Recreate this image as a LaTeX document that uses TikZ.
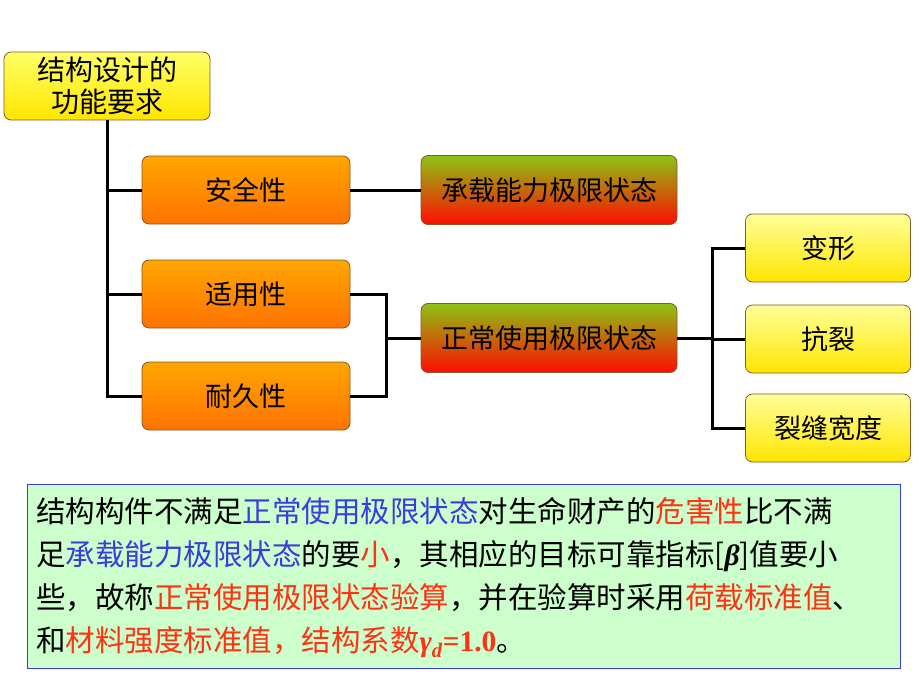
\documentclass[tikz,border=0pt]{standalone}
\usepackage{fontspec}
\setmainfont{Liberation Serif}
\newfontfamily\cjk{Noto Sans CJK SC}
\usetikzlibrary{positioning}
\definecolor{boxg}{RGB}{204,255,204}
\definecolor{bl}{RGB}{60,60,220}
\definecolor{rd}{RGB}{255,50,20}
\definecolor{gtop}{RGB}{140,195,20}
\begin{document}
\begin{tikzpicture}[x=1pt,y=-1pt,
  base/.style={draw=brown!70!black,rounded corners=7pt,line width=0.8pt,font=\cjk\fontsize{27}{31}\selectfont,inner sep=0pt},
  org/.style={base,minimum width=208pt,minimum height=68pt,top color=orange!70!yellow,bottom color=orange!90!red},
  grn/.style={base,minimum width=256pt,minimum height=69pt,top color=gtop,bottom color=red!90!orange},
  ylw/.style={base,minimum width=165pt,minimum height=68pt,top color=yellow!40,bottom color=yellow!80!orange},
  ln/.style={line width=3pt}]
\useasboundingbox (0,0) rectangle (920,690);
\node[base,minimum width=206pt,minimum height=68pt,top color=yellow!60,bottom color=yellow!80!orange,align=center,font=\cjk\fontsize{28}{32}\selectfont] (top) at (107,86) {结构设计的\\功能要求};
\node[org] (aq) at (246,190) {安全性};
\node[org] (sy) at (246,294) {适用性};
\node[org] (nj) at (246,396) {耐久性};
\node[grn] (cz) at (549,190) {承载能力极限状态};
\node[grn] (zc) at (549,338) {正常使用极限状态};
\node[ylw] (bx) at (828,248) {变形};
\node[ylw] (kl) at (828,339) {抗裂};
\node[ylw] (lf) at (828,428) {裂缝宽度};
\coordinate (t1) at (107,396);
\draw[ln] (top.south) -- (t1) -- (nj.west);
\draw[ln] (107,190) -- (aq.west);
\draw[ln] (107,294) -- (sy.west);
\draw[ln] (aq.east) -- (cz.west);
\coordinate (j1) at (386,294);
\coordinate (j2) at (386,396);
\draw[ln] (sy.east) -- (j1) -- (j2) -- (nj.east);
\draw[ln] (386,338) -- (zc.west);
\coordinate (k1) at (712,248);
\coordinate (k2) at (712,428);
\draw[ln] (zc.east) -- (712,338);
\draw[ln] (bx.west) -- (k1) -- (k2) -- (lf.west);
\draw[ln] (712,339) -- (kl.west);
\node[draw=bl,line width=1pt,fill=boxg,minimum width=873pt,minimum height=184pt,anchor=north west,inner sep=0pt] (box) at (27,484) {};
\node[anchor=north west,align=left,inner sep=0pt,font=\cjk\fontsize{29.5}{43}\selectfont] (txt) at (36,497) {结构构件不满足\textcolor{bl}{正常使用极限状态}对生命财产的\textcolor{rd}{危害性}比不满\\
足\textcolor{bl}{承载能力极限状态}的要\textcolor{rd}{小}，其相应的目标可靠指标[{\rmfamily\itshape\bfseries β}]值要小\\
些，故称\textcolor{rd}{正常使用极限状态验算}，并在验算时采用\textcolor{rd}{荷载标准值}、\\
和\textcolor{rd}{材料强度标准值，结构系数{\rmfamily\bfseries\itshape γ\textsubscript{d}}{\rmfamily\bfseries =1.0}}。};
\end{tikzpicture}
\end{document}
